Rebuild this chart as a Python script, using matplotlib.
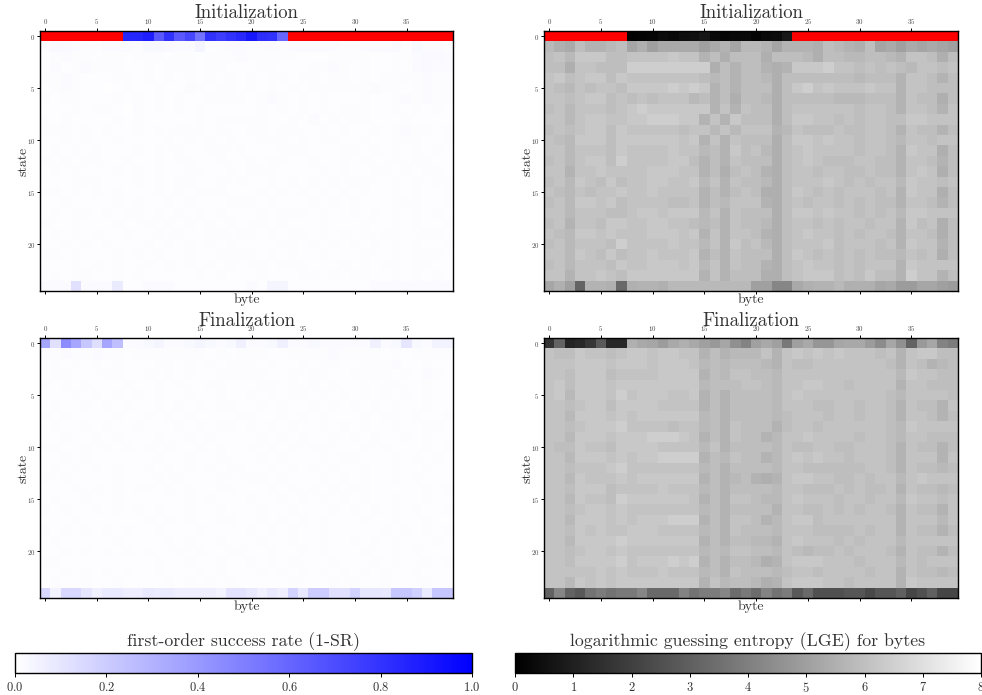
import numpy as np
import matplotlib

matplotlib.use("Agg")
import matplotlib.pyplot as plt
from matplotlib.colors import LinearSegmentedColormap

plt.rcParams["font.family"] = "cmr10"
plt.rcParams["axes.formatter.use_mathtext"] = True
plt.rcParams["axes.unicode_minus"] = False

nan = np.nan

# state 0 and state 24
SR_INIT_TOP = [nan] * 8 + [.85, .85, .88, .65, .8, .65, .72, .55,
                           .8, .76, .8, .84, .9, .82, .8, .6] + [nan] * 16
SR_INIT_BOT = [.02, .02, .02, .12, .02, .02, .02, .08, .01, .01, .02, .02, .02, .01, .01, .01, .01, .01, .01, .01,
               .02, .01, .04, .04, .01, .01, .01, .01, .01, .01, .01, .01, .02, .02, .02, .02, .02, .02, .02, .02]
SR_FINAL_TOP = [.35, .12, .45, .35, .22, .13, .35, .25, .02, .02, .03, .04, .02, .02, .03, .04, .03, .02, .03, .06,
                .02, .02, .03, .06, .02, .02, .03, .02, .02, .02, .02, .02, .06, .02, .03, .1, .03, .02, .05, .05]
SR_FINAL_BOT = [.15, .05, .15, .15, .1, .06, .08, .08, .07, .07, .09, .08, .08, .07, .07, .07, .07, .05, .11, .11,
                .09, .06, .09, .07, .17, .09, .2, .2, .12, .12, .17, .1, .1, .09, .22, .22, .18, .08, .22, .22]

LGE_INIT_TOP = [nan] * 8 + [.12, .15, .2, .4, .3, .45, .5, .7,
                            .25, .2, .25, .3, .1, .3, .35, .75] + [nan] * 16
LGE_INIT_BOT = [5.2, 5.5, 5.0, 3.1, 5.6, 5.6, 5.5, 3.3, 5.5, 5.6, 5.6, 5.5, 5.8, 5.8, 5.8, 5.8, 5.8, 5.8, 5.8, 5.8,
                5.0, 5.0, 4.2, 4.2, 5.3, 5.5, 5.6, 5.6, 5.8, 5.5, 5.5, 5.5, 5.2, 5.3, 4.9, 4.9, 5.2, 5.2, 5.0, 4.9]
LGE_FINAL_TOP = [1.6, 3.1, 1.1, 1.3, 1.7, 2.8, 1.3, 1.3, 5.5, 5.3, 5.2, 4.9, 5.3, 5.5, 5.3, 5.0,
                 4.8, 5.2, 4.5, 4.1, 5.0, 5.3, 5.0, 3.8, 5.0, 5.3, 4.7, 4.7, 5.2, 5.3, 5.3, 4.9,
                 4.4, 5.2, 4.5, 3.1, 4.8, 5.2, 4.1, 3.9]
LGE_FINAL_BOT = [3.1, 4.2, 3.1, 2.8, 3.6, 3.9, 3.6, 3.8, 3.8, 4.2, 3.3, 3.3, 3.3, 4.1, 3.6, 3.9,
                 3.9, 4.2, 3.4, 3.8, 3.4, 4.1, 3.6, 3.9, 2.8, 3.3, 2.5, 2.5, 2.5, 2.7, 2.7, 2.3,
                 2.7, 2.7, 3.0, 2.2, 2.5, 3.0, 2.2, 2.2]

# states 1..23: one digit per byte, 1-SR = digit * 0.005
SR_INIT_BODY = [
    "3554334443 6654482344 3343444443 3444536443", "2343323323 3323323334 3333322233 3322334554",
    "2423433322 3233323322 2332223343 2322324544", "3343222332 3232323232 3233233233 2323333433",
    "2343221232 2322432332 3232323333 3343323433", "3233222323 2323223333 2343232322 2322343433",
    "2223233213 2323232222 2323232323 3322323232", "3232222323 2222232333 3322324232 3322232222",
    "3332323223 2323332322 3323322323 2232343323", "2232322322 2232323232 2333232332 2322333223",
    "2323232223 2323223323 2223332223 3232323232", "3232332232 2323322322 3233223223 2322323322",
    "2323222323 2322332232 3332222323 2233232332", "2223332223 2323322323 2232323232 3322323233",
    "3323232322 2323233322 2323232323 2322323223", "2232222323 2232322233 3232223232 3222333223",
    "2323323233 2323232322 2323332322 3232323232", "3223222322 3232323232 3323222322 2322323223",
    "2323232232 2323223323 3232332323 2323322332", "2232323222 3232323232 2223323232 3232323223",
    "3323222323 2322322333 3232322322 2322323332", "2223232322 3232323232 3323332223 2323323322",
    "2323322323 2222232322 2322233232 3322323232",
]
SR_FINAL_BODY = [
    "3343343323 3333332323 3322333343 3332323333", "2323232322 2332323233 3232232332 2333422322",
    "2332223322 3232322333 3322323322 3333232432", "3232322232 2323223322 2332323232 2323322322",
    "2223232323 2322322322 3232332323 2323232322", "2322323232 2323232332 2323223232 3232322322",
    "3232222322 3232322223 3223232322 2323323223", "2322323223 2223232332 3232322323 2322322332",
    "2232232322 2322323222 2323232232 3232232322", "3322323232 3232232322 3232323322 2323222323",
    "2232322222 2322322322 2323222323 3222323232", "2323232322 3232323233 2232323232 2322322322",
    "3232222322 2323222322 3323222323 2322323222", "2223232323 3232322332 2232323232 3322222323",
    "2322322322 2222323222 3223232323 2322322322", "3232232323 2322322322 2322322232 3232323223",
    "2223222222 3232322332 2323232322 2322322322", "3232323232 2322232222 3232322322 2223232323",
    "2322222322 2232322322 2322322322 3232322232", "2232323232 3223232233 2232232322 2322323222",
    "3322222222 2322322322 3232322232 2232322323", "2232323232 2322232322 2323232323 2323223222",
    "2322322322 2232323232 2222322232 3223222322",
]

# states 1..23: one digit per byte, LGE = 5.0 + digit * 0.16
LGE_INIT_BODY = [
    "5326445613 0222202415 5414443654 3612021210", "6758886677 7787746366 6366653665 5665477636",
    "6637766699 9999993646 6434888977 6767657767", "7867886877 7777765646 6536666666 5666477646",
    "7657677688 8898984646 6636897877 7877477666", "7767886767 6777564636 6536666655 5666476636",
    "6757776789 8888884747 6636777777 6776477647", "7757887788 9998847486 6636887767 6776688777",
    "6767886877 7776775757 7745766676 6776476646", "7658886888 8887847476 6636887877 6776577677",
    "7757776877 7787756486 7536787777 6776487736", "6757886977 7788646476 6636787666 7766477646",
    "7747787777 8887746367 6436776776 6766478736", "6758768677 8877857476 6536777876 7677587767",
    "7657677877 8777746467 6336876767 7767487736", "6758878677 7766746577 7436767767 6766477646",
    "7757776678 8788857476 6636887877 6767588777", "6747768877 8877656476 6536776767 7677486736",
    "7658878777 8887847477 6436787767 6776477636", "6757776977 7787757486 7536777867 7767487746",
    "7758768677 8777846476 6636876767 6766576736", "6757776877 8887857476 6436787767 6777487777",
    "7747787688 8888847466 6336788867 6866497746",
]
LGE_FINAL_BODY = [
    "7668776788 7887746455 5747878787 7767478866", "7778887888 7888756566 6547667777 7776476456",
    "7768886777 7888846577 6657777777 7777587766", "7868887888 8888856667 7657788776 7777477666",
    "7858887978 8877846466 6657877777 7776577776", "7767886888 8777746466 6657776677 6776476647",
    "7758887878 8888856466 6656777677 6776477646", "7767888977 7767756476 6646776777 7776587777",
    "7758887888 9998746476 6457787777 6776577666", "7668776888 8777757466 6657667766 7776476646",
    "7758887878 8999946576 6457878776 7776477747", "7767778977 7777756466 6657766666 6776476656",
    "7758777878 8888846456 4347887766 7677578777", "7768886777 7877756466 6657766676 7667476656",
    "7758776988 8888746477 6557877767 7677587767", "7767887877 7777756466 6647766767 6776476647",
    "7758887878 8899946477 6457886777 7777477757", "7768787788 8777756476 6657776666 7677476646",
    "7758888988 8888846466 5547877767 6777577777", "7767887877 7777756577 6657656676 7776476646",
    "7768888978 8898946466 5347888777 6777576777", "7777787877 7877756476 6656776777 7677476656",
    "7758787888 8888847566 5347888776 7777487777",
]

PANELS = [
    (SR_INIT_TOP, SR_INIT_BODY, SR_INIT_BOT, 0.0, 0.005, "Initialization"),
    (LGE_INIT_TOP, LGE_INIT_BODY, LGE_INIT_BOT, 5.0, 0.16, "Initialization"),
    (SR_FINAL_TOP, SR_FINAL_BODY, SR_FINAL_BOT, 0.0, 0.005, "Finalization"),
    (LGE_FINAL_TOP, LGE_FINAL_BODY, LGE_FINAL_BOT, 5.0, 0.16, "Finalization"),
]
X_TICKS = [0, 5, 10, 15, 20, 25, 30, 35]
Y_TICKS = [0, 5, 10, 15, 20]

W, H = 982, 695


def px_axes(fig, x0, y0, x1, y1):
    return fig.add_axes([x0 / W, 1 - y1 / H, (x1 - x0) / W, (y1 - y0) / H])


def build_grid(top, body, bot, offset, scale):
    rows = [top]
    for row in body:
        rows.append([offset + int(c) * scale for c in row.replace(" ", "")])
    rows.append(bot)
    return np.array(rows, dtype=float)


def main():
    blues = LinearSegmentedColormap.from_list("white_blue", ["white", "blue"])
    blues.set_bad("red")
    grays = plt.get_cmap("gray").copy()
    grays.set_bad("red")

    fig = plt.figure(figsize=(W / 100, H / 100), dpi=100)
    boxes = [(40, 31, 453, 291), (544, 31, 958, 291), (40, 338, 453, 598), (544, 338, 958, 598)]
    images = []
    for i, (top, body, bot, offset, scale, title) in enumerate(PANELS):
        ax = px_axes(fig, *boxes[i])
        cmap, vmax = (blues, 1) if i % 2 == 0 else (grays, 8)
        im = ax.imshow(build_grid(top, body, bot, offset, scale), cmap=cmap, vmin=0, vmax=vmax,
                       aspect="auto", interpolation="nearest")
        images.append(im)
        ax.set_xticks(X_TICKS)
        ax.set_yticks(Y_TICKS)
        ax.tick_params(axis="x", top=True, labeltop=True, bottom=True, labelbottom=False,
                       labelsize=5, length=2, width=0.7, pad=1.5, labelcolor="#444444")
        ax.tick_params(axis="y", labelsize=5, length=2, width=0.7, pad=1.5, labelcolor="#444444")
        ax.xaxis.set_label_position("bottom")
        ax.set_xlabel("byte", fontsize=10, labelpad=0, color="#333333")
        ax.set_ylabel("state", fontsize=10, labelpad=-2, color="#333333")
        # fixed y so the title sits right over the top tick labels, not above them
        ax.set_title(title, fontsize=13.5, y=1.0, pad=9, color="#333333")
        for s in ax.spines.values():
            s.set_linewidth(1.0)

    for im, box, title, ticks in [
        (images[0], (15, 653, 472, 673), "first-order success rate (1-SR)", [0, .2, .4, .6, .8, 1]),
        (images[1], (515, 653, 981, 673), "logarithmic guessing entropy (LGE) for bytes", list(range(9))),
    ]:
        cax = px_axes(fig, *box)
        cb = fig.colorbar(im, cax=cax, orientation="horizontal", ticks=ticks)
        cb.ax.tick_params(labelsize=9, length=3, width=0.7, pad=3, labelcolor="#333333")
        cb.outline.set_linewidth(1.0)
        cax.set_title(title, fontsize=12.8, pad=5, color="#333333")

    fig.savefig("out.png", dpi=100)
    plt.close()


if __name__ == "__main__":
    main()
